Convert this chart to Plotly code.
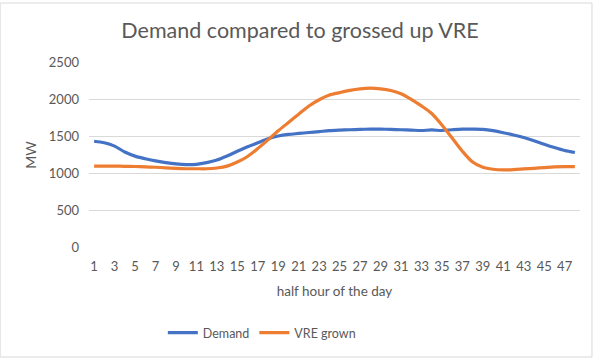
import plotly.graph_objects as go

half_hours = list(range(1, 49))
demand = [1435, 1415, 1370, 1290, 1235, 1200, 1170, 1148, 1130, 1120,
          1125, 1148, 1182, 1236, 1300, 1360, 1415, 1468, 1505, 1527,
          1540, 1553, 1565, 1578, 1585, 1590, 1595, 1598, 1598, 1595,
          1590, 1585, 1580, 1587, 1580, 1590, 1598, 1598, 1595, 1578,
          1550, 1520, 1485, 1443, 1395, 1350, 1310, 1283]
vre_grown = [1100, 1100, 1100, 1098, 1095, 1090, 1085, 1078, 1070, 1065,
             1065, 1065, 1075, 1100, 1155, 1230, 1337, 1454, 1576, 1688,
             1800, 1910, 1994, 2057, 2090, 2120, 2141, 2150, 2141, 2119,
             2075, 2000, 1911, 1809, 1655, 1478, 1301, 1155, 1085, 1058,
             1049, 1053, 1062, 1071, 1080, 1089, 1093, 1093]
x_ticks = list(range(1, 48, 2))
y_ticks = [0, 500, 1000, 1500, 2000, 2500]

FONT = "Lato, 'Open Sans', sans-serif"
GREY = "#595959"

fig = go.Figure()
fig.add_trace(go.Scatter(x=half_hours, y=demand, name="Demand", mode="lines",
                         line=dict(color="#4472C4", width=3.2, shape="spline", smoothing=0.8)))
fig.add_trace(go.Scatter(x=half_hours, y=vre_grown, name="VRE grown", mode="lines",
                         line=dict(color="#ED7D31", width=3.2, shape="spline", smoothing=0.8)))

fig.update_layout(
    width=600, height=360,
    margin=dict(l=89, r=20, t=62, b=112, autoexpand=False),
    paper_bgcolor="white", plot_bgcolor="white",
    font=dict(family=FONT, color=GREY, size=12),
    title=dict(text="Demand compared to grossed up VRE", x=0.5, xanchor="center",
               y=0.915, yanchor="middle", font=dict(size=21.5, color=GREY, family=FONT)),
    showlegend=True,
    legend=dict(orientation="h", x=0.352, xanchor="center", y=-0.457, yanchor="middle",
                font=dict(size=12.5, color=GREY), itemwidth=30, tracegroupgap=0),
)
fig.update_xaxes(range=[0.5, 48.5], tickmode="array", tickvals=x_ticks,
                 ticktext=[str(v) for v in x_ticks], showgrid=False, zeroline=False,
                 showline=False, ticks="", tickfont=dict(size=13, color=GREY),
                 ticklabelstandoff=9,
                 title=dict(text="half hour of the day", font=dict(size=13.5, color=GREY), standoff=13))
fig.update_yaxes(range=[-2, 2502], tickmode="array", tickvals=y_ticks,
                 showgrid=True, gridcolor="#d9d9d9", gridwidth=1, zeroline=False,
                 showline=False, ticks="", tickfont=dict(size=13, color=GREY),
                 ticklabelstandoff=9,
                 title=dict(text="MW", font=dict(size=14, color=GREY), standoff=8))

fig.add_shape(type="rect", xref="paper", yref="paper",
              x0=-0.181, x1=1.0244, y0=-0.586, y1=1.317,
              line=dict(color="#d9d9d9", width=1), fillcolor="rgba(0,0,0,0)", layer="below")

fig.write_html("out.html", config={"displayModeBar": False},
               post_script="document.body.style.margin='0';document.body.style.padding='0';")
